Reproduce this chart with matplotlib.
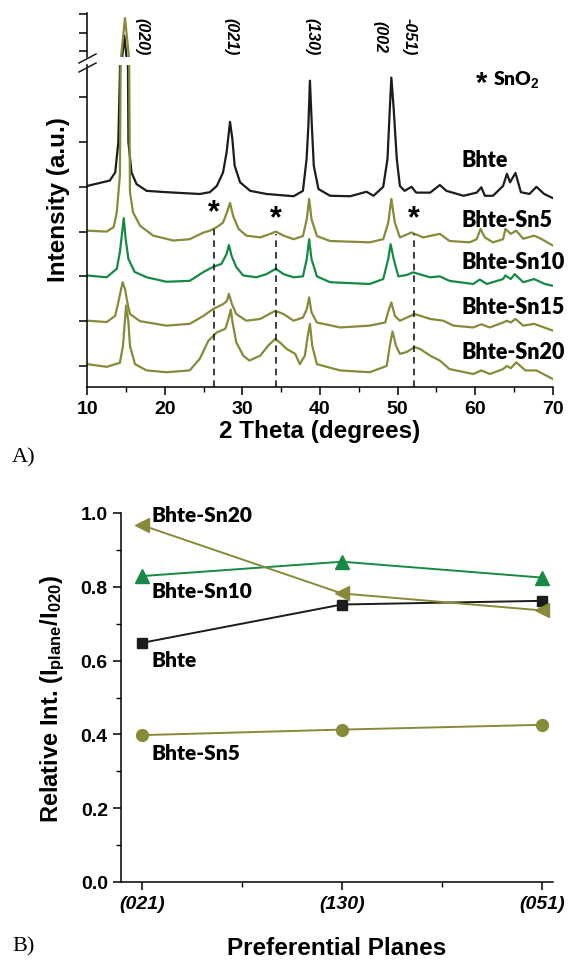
import matplotlib
matplotlib.use('Agg')
import matplotlib.pyplot as plt
from matplotlib.lines import Line2D

plt.rcParams['mathtext.fontset'] = 'custom'
plt.rcParams['mathtext.rm'] = 'Liberation Sans:bold'
plt.rcParams['mathtext.bf'] = 'Liberation Sans:bold'
plt.rcParams['mathtext.it'] = 'Liberation Sans:bold:italic'

BLACK = '#1c1c1c'
OLIVE = '#878a38'
GREEN = '#168a45'

# ---------------- Panel A data: (2theta, stacked intensity a.u.) ----------------
bhte = [(10, 4.02), (12.9, 4.14), (13.6, 4.32), (14.0, 5.0), (14.2, 6.5), (14.35, 9.0),
        (14.5, 16.8), (14.77, 28.3), (15.05, 16.8), (15.15, 9.0), (15.25, 6.5), (15.3, 5.0),
        (15.7, 4.32), (16.35, 4.06), (17.65, 3.91), (20.2, 3.88), (24.5, 3.84), (25.8, 3.88),
        (26.7, 4.02), (27.5, 4.32), (27.96, 4.77), (28.4, 5.45), (28.7, 5.07), (29.0, 4.47),
        (29.7, 4.1), (31.0, 3.91), (33.1, 3.84), (36.6, 3.79), (37.8, 3.91), (38.27, 4.62),
        (38.5, 5.36), (38.7, 6.37), (38.95, 5.36), (39.2, 4.47), (39.8, 3.95), (41.3, 3.8),
        (43.9, 3.79), (46.0, 3.89), (46.9, 3.8), (48.15, 4.0), (48.7, 4.62), (49.0, 5.74),
        (49.2, 6.44), (49.5, 5.74), (49.9, 4.62), (50.3, 4.02), (50.9, 3.91), (51.8, 4.0),
        (52.4, 3.87), (54.2, 3.87), (55.45, 4.04), (56.3, 3.91), (58.5, 3.8), (60.2, 3.87),
        (60.8, 3.99), (61.25, 3.8), (62.3, 3.8), (63.6, 4.02), (64.1, 4.29), (64.5, 4.1),
        (65.2, 4.31), (65.9, 3.88), (67.0, 3.84), (67.9, 4.0), (68.9, 3.84), (70, 3.75)]

bhte_sn5 = [(10, 3.02), (12.5, 3.0), (13.4, 3.1), (13.8, 3.43), (14.2, 4.25), (14.3, 6.7),
            (14.35, 16.76), (14.86, 37.8), (15.37, 16.76), (15.4, 6.7), (15.5, 3.88),
            (15.9, 3.43), (16.8, 3.13), (18.5, 2.91), (21.1, 2.8), (23.2, 2.83), (25.0, 2.98),
            (25.8, 3.02), (26.7, 3.1), (27.5, 3.2), (28.0, 3.43), (28.4, 3.64), (28.8, 3.35),
            (29.5, 3.06), (30.5, 2.91), (32.3, 2.87), (33.6, 2.95), (34.3, 3.0), (35.3, 2.91),
            (36.6, 2.83), (37.8, 2.9), (38.3, 3.28), (38.6, 3.73), (38.9, 3.28), (39.6, 2.9),
            (41.3, 2.79), (46.4, 2.76), (48.15, 2.83), (48.8, 3.2), (49.2, 3.73), (49.65, 3.2),
            (50.3, 2.87), (51.8, 2.98), (53.3, 2.87), (55.45, 2.95), (56.7, 2.79), (59.3, 2.76),
            (60.2, 2.83), (60.7, 3.06), (61.25, 2.87), (62.3, 2.76), (63.6, 2.83), (63.9, 3.06),
            (64.6, 2.95), (65.3, 3.02), (66.2, 2.84), (67.6, 2.91), (68.5, 2.84), (70, 2.69)]

bhte_sn10 = [(10, 2.02), (12.5, 1.98), (13.8, 2.17), (14.2, 2.54), (14.5, 2.99), (14.7, 3.3),
             (14.95, 2.83), (15.3, 2.39), (16.1, 2.1), (17.65, 1.98), (20.2, 1.88), (23.2, 1.9),
             (25.0, 2.1), (26.2, 2.21), (27.3, 2.28), (27.96, 2.5), (28.25, 2.7), (28.6, 2.46),
             (29.2, 2.21), (30.1, 2.02), (31.8, 1.98), (33.1, 2.05), (34.3, 2.17), (35.3, 2.05),
             (36.6, 1.98), (37.8, 2.0), (38.3, 2.39), (38.6, 2.83), (38.9, 2.39), (39.6, 2.0),
             (41.3, 1.87), (46.4, 1.83), (48.15, 1.94), (48.8, 2.39), (49.1, 2.72), (49.5, 2.39),
             (50.1, 2.0), (51.15, 2.03), (52.0, 2.09), (54.2, 1.98), (55.45, 2.0), (56.7, 1.9),
             (59.75, 1.83), (60.6, 1.93), (61.5, 1.83), (63.6, 1.94), (63.9, 2.02), (64.6, 1.94),
             (65.1, 2.05), (66.2, 1.87), (67.6, 1.94), (69.0, 1.83), (70, 1.79)]

bhte_sn15 = [(10, 1.01), (12.5, 0.98), (13.6, 1.12), (14.1, 1.5), (14.55, 1.87), (14.86, 1.72),
             (15.15, 1.43), (15.5, 1.16), (16.8, 1.0), (20.2, 0.9), (23.2, 0.94), (25.0, 1.12),
             (26.2, 1.27), (27.5, 1.38), (28.0, 1.45), (28.25, 1.61), (28.65, 1.38), (29.2, 1.16),
             (30.5, 1.01), (32.3, 1.05), (34.2, 1.23), (35.3, 1.16), (36.6, 1.01), (37.8, 1.08),
             (38.3, 1.27), (38.6, 1.53), (38.9, 1.2), (39.6, 0.97), (42.6, 0.86), (46.4, 0.9),
             (48.4, 0.97), (48.9, 1.27), (49.2, 1.42), (49.65, 1.12), (50.3, 1.01), (52.2, 1.16),
             (54.2, 1.05), (55.9, 1.01), (57.2, 0.9), (59.75, 0.86), (60.8, 0.93), (61.9, 0.86),
             (63.6, 0.97), (64.1, 1.01), (64.6, 0.97), (65.2, 1.05), (66.2, 0.9), (67.6, 0.94),
             (70, 0.79)]

bhte_sn20 = [(10, 0.04), (12.5, -0.02), (14.2, 0.07), (14.6, 0.45), (15.0, 1.35), (15.3, 0.98),
             (15.5, 0.45), (16.15, 0.04), (17.65, -0.1), (20.2, -0.14), (23.2, -0.1), (24.5, 0.16),
             (25.6, 0.56), (26.7, 0.75), (27.8, 0.83), (28.2, 1.05), (28.5, 1.26), (28.7, 1.0),
             (29.2, 0.53), (30.1, 0.23), (30.9, 0.12), (32.3, 0.23), (33.3, 0.45), (34.2, 0.6),
             (34.8, 0.53), (35.7, 0.38), (36.8, 0.27), (37.4, 0.04), (38.05, 0.23), (38.35, 0.6),
             (38.7, 0.94), (39.0, 0.45), (39.6, 0.04), (42.6, -0.1), (46.4, -0.14), (48.6, 0.0),
             (49.0, 0.45), (49.35, 0.77), (49.8, 0.45), (50.3, 0.27), (51.15, 0.31), (52.2, 0.42),
             (52.9, 0.38), (54.2, 0.23), (55.45, 0.12), (56.7, -0.07), (59.75, -0.18), (60.8, -0.1),
             (61.9, -0.18), (63.6, -0.07), (64.1, 0.0), (64.6, -0.05), (65.3, 0.08), (66.5, -0.1),
             (67.9, -0.1), (69.0, -0.2), (70, -0.29)]

traces_a = [(bhte, BLACK), (bhte_sn5, OLIVE), (bhte_sn10, GREEN), (bhte_sn15, OLIVE), (bhte_sn20, OLIVE)]
sample_labels = ['Bhte', 'Bhte-Sn5', 'Bhte-Sn10', 'Bhte-Sn15', 'Bhte-Sn20']
sample_label_y = [4.62, 3.28, 2.34, 1.32, 0.33]

peak_labels = ['(020)', '(021)', '(130)', '(002', '-051)']
peak_label_x = [17.0, 28.5, 38.95, 47.7, 51.45]

sno2_positions = [26.37, 34.3, 52.15]
sno2_star_y = [3.44, 3.3, 3.3]
sno2_line_top = [3.06, 2.95, 2.95]

# ---------------- Panel B data ----------------
planes = ['(021)', '(130)', '(051)']
rel_bhte = [0.648, 0.752, 0.762]
rel_sn5 = [0.398, 0.413, 0.426]
rel_sn10 = [0.829, 0.868, 0.825]
rel_sn20 = [0.967, 0.782, 0.736]

FONT = 'Liberation Sans'
LBL = 'Lato'

W, H = 570, 962
fig = plt.figure(figsize=(W / 100, H / 100), dpi=100)

def fr(x0, y_top, x1, y_bot):
    return [x0 / W, 1 - y_bot / H, (x1 - x0) / W, (y_bot - y_top) / H]

ax_lo = fig.add_axes(fr(87.3, 66, 552.7, 388))
ax_hi = fig.add_axes(fr(87.3, 14, 552.7, 58), sharex=ax_lo)

for ax in (ax_lo, ax_hi):
    for data, col in traces_a:
        xs = [p[0] for p in data]
        ys = [p[1] for p in data]
        ax.plot(xs, ys, color=col, lw=1.6, solid_joinstyle='round')
    ax.spines['top'].set_visible(False)
    ax.spines['right'].set_visible(False)
    for s in ax.spines.values():
        s.set_linewidth(1.1)
    ax.set_facecolor('none')

ax_lo.set_xlim(10, 70)
ax_lo.set_ylim(-0.47, 6.72)
ax_hi.set_ylim(16.76, 40.54)
ax_hi.spines['bottom'].set_visible(False)
ax_hi.tick_params(axis='x', which='both', bottom=False, labelbottom=False)
ax_lo.set_yticks(range(0, 7))
ax_lo.set_yticklabels([])
ax_hi.set_yticks([20, 30, 40])
ax_hi.set_yticklabels([])
ax_lo.set_xticks(range(10, 71, 10))
ax_lo.set_xticks(range(15, 70, 10), minor=True)
ax_lo.tick_params(axis='both', which='major', direction='out', length=6, width=1.1,
                  labelsize=14, pad=3)
ax_lo.tick_params(axis='x', which='minor', direction='out', length=3.5, width=1.0)
ax_hi.tick_params(axis='y', which='major', direction='out', length=6, width=1.1)
for t in ax_lo.get_xticklabels():
    t.set_fontfamily(FONT)
    t.set_fontweight('bold')
ax_lo.set_xlabel('2 Theta (degrees)', fontsize=17.5, fontweight='bold', family=FONT, labelpad=2)

# break marks
for dy in (0, 9):
    fig.add_artist(Line2D([79 / W, 96 / W], [1 - (64 + dy) / H, 1 - (55 + dy) / H],
                          color=BLACK, lw=1.1))

fig.text(58 / W, 1 - 200 / H, 'Intensity (a.u.)', rotation=90, ha='center', va='center',
         fontsize=17.5, fontweight='bold', family=FONT)

for lab, x in zip(peak_labels, peak_label_x):
    ax_hi.text(x, 28.3, lab, rotation=270, ha='center', va='center', fontsize=11.5,
               fontweight='bold', style='italic', family=FONT)

fig.text(482 / W, 1 - 84 / H, '*', ha='center', va='center', fontsize=21, fontweight='bold',
         family=FONT)
fig.text(493 / W, 1 - 80 / H, r'SnO$_{2}$', ha='left', va='center', fontsize=14,
         fontweight='heavy', family=LBL)

for lab, y in zip(sample_labels, sample_label_y):
    ax_lo.text(58.2, y, lab, ha='left', va='center', fontsize=15.5, fontweight='heavy', family=LBL)

for x, ys, yt in zip(sno2_positions, sno2_star_y, sno2_line_top):
    ax_lo.plot([x, x], [-0.47, yt], color=BLACK, lw=1.2, ls=(0, (4, 3)))
    ax_lo.text(x, ys, '*', ha='center', va='center', fontsize=22, fontweight='bold', family=FONT)

fig.text(12 / W, 1 - 458 / H, 'A)', ha='left', va='center', fontsize=16, family='Liberation Serif')
fig.text(12 / W, 1 - 947 / H, 'B)', ha='left', va='center', fontsize=16, family='Liberation Serif')

# ---------------- Panel B ----------------
axb = fig.add_axes(fr(121, 514, 552.7, 883))
xpos = list(range(len(planes)))
axb.plot(xpos, rel_bhte, color=BLACK, lw=1.4, marker='s', ms=7.5, mfc=BLACK, mec=BLACK, zorder=3)
axb.plot(xpos, rel_sn5, color=OLIVE, lw=1.4, marker='o', ms=8.5, mfc=OLIVE, mec=OLIVE, zorder=3)
axb.plot(xpos, rel_sn10, color=GREEN, lw=1.4, marker='^', ms=9.5, mfc=GREEN, mec=GREEN, zorder=3)
axb.plot(xpos, rel_sn20, color=OLIVE, lw=1.4, marker='<', ms=9.5, mfc=OLIVE, mec=OLIVE, zorder=3)
axb.set_xlim(-0.104, 2.054)
axb.set_ylim(0, 1.0)
axb.spines['top'].set_visible(False)
axb.spines['right'].set_visible(False)
for s in axb.spines.values():
    s.set_linewidth(1.1)
axb.set_xticks(xpos)
axb.set_xticklabels(planes)
axb.set_xticks([0.5, 1.5], minor=True)
axb.set_yticks([0, 0.2, 0.4, 0.6, 0.8, 1.0])
axb.set_yticks([0.1, 0.3, 0.5, 0.7, 0.9], minor=True)
axb.set_yticklabels(['0.0', '0.2', '0.4', '0.6', '0.8', '1.0'])
axb.tick_params(axis='both', which='major', direction='out', length=6, width=1.1, labelsize=14)
axb.tick_params(axis='both', which='minor', direction='out', length=3.5, width=1.0)
for t in axb.get_yticklabels():
    t.set_fontfamily(FONT)
    t.set_fontweight('bold')
for t in axb.get_xticklabels():
    t.set_fontfamily(FONT)
    t.set_fontweight('bold')
    t.set_fontstyle('italic')
axb.set_xlabel('Preferential Planes', fontsize=17.5, fontweight='bold', family=FONT, labelpad=17)
axb.set_ylabel(r'Relative Int. (I$_{\mathrm{plane}}$/I$_{\mathit{020}}$)', fontsize=17,
               fontweight='bold', family=FONT, labelpad=10)

b_labels = ['Bhte-Sn20', 'Bhte-Sn10', 'Bhte', 'Bhte-Sn5']
b_label_y = [0.995, 0.789, 0.604, 0.352]
for lab, y in zip(b_labels, b_label_y):
    axb.text(0.046, y, lab, ha='left', va='center', fontsize=15, fontweight='heavy', family=LBL)

fig.savefig('out.png', dpi=100)
